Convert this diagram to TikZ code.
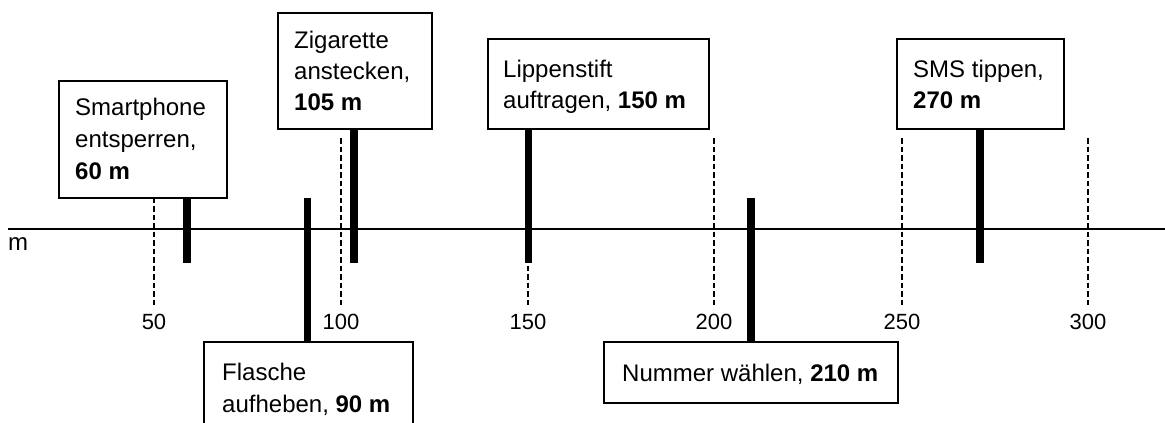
\documentclass[tikz,border=0pt]{standalone}
\usepackage{fontspec}
\setmainfont{Liberation Sans}
\begin{document}
\begin{tikzpicture}[x=1pt,y=-1pt,
  box/.style={draw, line width=1.5pt, fill=white, inner sep=0pt, anchor=north west},
  txt/.style={anchor=base west, inner sep=0pt, font=\fontsize{24}{32}\selectfont},
  bar/.style={line width=7.5pt},
  axisline/.style={line width=2pt},
  guide/.style={line width=1.2pt, dash pattern=on 5.5pt off 3pt},
  ticklabel/.style={anchor=base, inner sep=0pt, font=\fontsize{22}{26}\selectfont}]

\clip (0,0) rectangle (1165,423);

% dashed guides at every 50 m
\foreach \v/\x in {50/154,100/341,150/528,200/714,250/902,300/1088}{
  \coordinate (gt\v) at (\x,138);
  \coordinate (gb\v) at (\x,307);
  \draw[guide] (gt\v) -- (gb\v);
  \node[ticklabel] (t\v) at (\x,329) {\v};
}

% distance axis
\coordinate (axL) at (8,229);
\coordinate (axR) at (1165,229);
\draw[axisline] (axL) -- (axR);
\node[anchor=base west, inner sep=0pt, font=\fontsize{24}{28}\selectfont] (unit) at (8,250) {m};

% label boxes
\node[box, minimum width=168pt, minimum height=117pt] (sm)  at (58,80)   {};
\node[box, minimum width=154pt, minimum height=116pt] (zi)  at (277,12)  {};
\node[box, minimum width=221pt, minimum height=90pt]  (li)  at (487,38)  {};
\node[box, minimum width=167pt, minimum height=90pt]  (sms) at (896,38)  {};
\node[box, minimum width=209pt, minimum height=110pt] (fl)  at (203,341) {};
\node[box, minimum width=294pt, minimum height=61pt]  (nu)  at (603,341) {};

% bars from the boxes to the axis
\coordinate (e60)  at (187,263);
\coordinate (e90)  at (307.5,198);
\coordinate (e105) at (354,263);
\coordinate (e150) at (528.5,263);
\coordinate (e210) at (751,198);
\coordinate (e270) at (980,263);
\draw[bar] (e60)  -- (e60  |- sm.south);
\draw[bar] (e90)  -- (e90  |- fl.north);
\draw[bar] (e105) -- (e105 |- zi.south);
\draw[bar] (e150) -- (e150 |- li.south);
\draw[bar] (e210) -- (e210 |- nu.north);
\draw[bar] (e270) -- (e270 |- sms.south);

% box texts
\node[txt] (sm1) at (75,115) {Smartphone};
\node[txt] (sm2) at (75,147) {entsperren,};
\node[txt] (sm3) at (75,179) {\bfseries 60 m};

\node[txt] (zi1) at (294,48) {Zigarette};
\node[txt] (zi2) at (294,79) {anstecken,};
\node[txt] (zi3) at (294,110) {\bfseries 105 m};

\node[txt] (li1) at (503,77) {Lippenstift};
\node[txt] (li2) at (503,108) {auftragen, \bfseries 150 m};

\node[txt] (sms1) at (913,77) {SMS tippen,};
\node[txt] (sms2) at (913,108) {\bfseries 270 m};

\node[txt] (fl1) at (222,380) {Flasche};
\node[txt] (fl2) at (222,412) {aufheben, \bfseries 90 m};

\node[txt] (nu1) at (622,381) {Nummer wählen, \bfseries 210 m};
\end{tikzpicture}
\end{document}
